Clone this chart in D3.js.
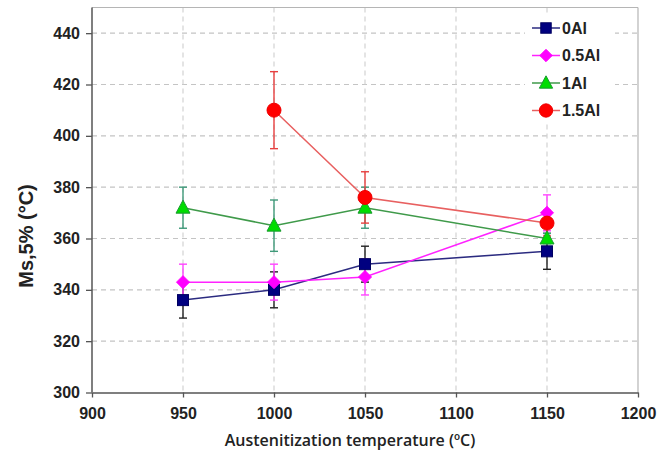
<!DOCTYPE html>
<html>
<head>
<meta charset="utf-8">
<script src="https://cdn.jsdelivr.net/npm/d3@7"></script>
<style>
  html, body { margin: 0; padding: 0; background: #fff; }
  svg { display: block; }
</style>
</head>
<body>
<svg id="chart" width="669" height="455"></svg>
<script>
// ---- data ----
const temps = [950, 1000, 1050, 1150];
const seriesNames = ["0Al", "0.5Al", "1Al", "1.5Al"];
const ms0Al   = [336, 340, 350, 355];
const err0Al  = [7, 7, 7, 7];
const ms05Al  = [343, 343, 345, 370];
const err05Al = [7, 7, 7, 7];
const ms1Al   = [372, 365, 372, 360];
const err1Al  = [8, 10, 8, 2];
const temps15 = [1000, 1050, 1150];
const ms15Al  = [410, 376, 366];
const err15Al = [15, 10, 5];
const xTicks = [900, 950, 1000, 1050, 1100, 1150, 1200];
const yTicks = [300, 320, 340, 360, 380, 400, 420, 440];

const series = [
  { name: seriesNames[0], x: temps,   y: ms0Al,  e: err0Al,  line: "#2b2b80", fill: "#000080", stroke: "#000060", err: "#222222", shape: "square" },
  { name: seriesNames[1], x: temps,   y: ms05Al, e: err05Al, line: "#ff22ff", fill: "#ff00ff", stroke: "#ff00ff", err: "#ff44ff", shape: "diamond" },
  { name: seriesNames[2], x: temps,   y: ms1Al,  e: err1Al,  line: "#3f9a4a", fill: "#00dd00", stroke: "#1a9a30", err: "#3f9a7a", shape: "triangle" },
  { name: seriesNames[3], x: temps15, y: ms15Al, e: err15Al, line: "#e86060", fill: "#ff0000", stroke: "#ee0000", err: "#e84040", shape: "circle" }
];

// ---- layout ----
const svg = d3.select("#chart");
const L = 92, R = 638, T = 7.5, B = 392.5;
const x = d3.scaleLinear().domain([900, 1200]).range([L, R]);
const y = d3.scaleLinear().domain([300, 450]).range([B, T]);

const FONT = "'Liberation Sans', Arial, sans-serif";

// grid
const grid = svg.append("g");
grid.selectAll(".hg").data(yTicks.filter(d => d > 300)).enter().append("line")
  .attr("x1", L).attr("x2", R).attr("y1", d => y(d)).attr("y2", d => y(d))
  .attr("stroke", "#c4c4c4").attr("stroke-width", 1.2).attr("stroke-dasharray", "5,4");
grid.selectAll(".vg").data(xTicks.filter(d => d > 900 && d < 1200)).enter().append("line")
  .attr("y1", T).attr("y2", B).attr("x1", d => x(d)).attr("x2", d => x(d))
  .attr("stroke", "#d2d2d2").attr("stroke-width", 1.2).attr("stroke-dasharray", "5,4");

// frame top/right
svg.append("line").attr("x1", L).attr("x2", R).attr("y1", T).attr("y2", T).attr("stroke", "#b5b5b5").attr("stroke-width", 1.2);
svg.append("line").attr("x1", R).attr("x2", R).attr("y1", T).attr("y2", B).attr("stroke", "#b5b5b5").attr("stroke-width", 1.2);

// axes
const xAxis = svg.append("g").attr("transform", `translate(0,${B})`)
  .call(d3.axisBottom(x).tickValues(xTicks).tickSize(5).tickSizeOuter(0).tickFormat(d3.format("d")));
const yAxis = svg.append("g").attr("transform", `translate(${L},0)`)
  .call(d3.axisLeft(y).tickValues(yTicks).tickSize(6).tickSizeOuter(0).tickFormat(d3.format("d")));
[xAxis, yAxis].forEach(a => {
  a.select(".domain").attr("stroke", "#555").attr("stroke-width", 1.5);
  a.selectAll(".tick line").attr("stroke", "#555").attr("stroke-width", 1.3);
  a.selectAll(".tick text").attr("fill", "#222").attr("font-family", FONT)
    .attr("font-weight", "bold").attr("font-size", "16px");
});
xAxis.selectAll(".tick text").attr("dy", "1.15em");
yAxis.selectAll(".tick text").attr("x", -12);
yAxis.select(".domain").attr("d", `M0,${B}V${T}`);

// axis titles
svg.append("text").attr("x", 350).attr("y", 446).attr("text-anchor", "middle")
  .attr("font-family", "'Open Sans', sans-serif").attr("font-weight", 600).attr("font-size", "16px")
  .attr("fill", "#222").text("Austenitization temperature (ºC)");
svg.append("text").attr("transform", "translate(33,236) rotate(-90)").attr("text-anchor", "middle")
  .attr("font-family", FONT).attr("font-weight", "bold").attr("font-size", "20px")
  .attr("fill", "#222").text("Ms,5% (°C)");

// markers
function drawMarker(g, s, cx, cy, scale) {
  const k = scale || 1;
  if (s.shape === "square") {
    g.append("rect").attr("x", cx - 5.5 * k).attr("y", cy - 5.5 * k).attr("width", 11 * k).attr("height", 11 * k)
      .attr("fill", s.fill).attr("stroke", s.stroke).attr("stroke-width", 1);
  } else if (s.shape === "diamond") {
    const r = 6.5 * k;
    g.append("path").attr("d", `M${cx},${cy - r}L${cx + r},${cy}L${cx},${cy + r}L${cx - r},${cy}Z`)
      .attr("fill", s.fill).attr("stroke", s.stroke).attr("stroke-width", 1);
  } else if (s.shape === "triangle") {
    const h = 13 * k, w = 14 * k;
    g.append("path").attr("d", `M${cx},${cy - h * 0.58}L${cx + w / 2},${cy + h * 0.42}L${cx - w / 2},${cy + h * 0.42}Z`)
      .attr("fill", s.fill).attr("stroke", s.stroke).attr("stroke-width", 1);
  } else {
    g.append("circle").attr("cx", cx).attr("cy", cy).attr("r", 7 * k)
      .attr("fill", s.fill).attr("stroke", s.stroke).attr("stroke-width", 1);
  }
}

const plot = svg.append("g");
series.forEach(s => {
  const pts = s.x.map((xv, i) => [x(xv), y(s.y[i])]);
  plot.append("path").attr("d", d3.line()(pts)).attr("fill", "none")
    .attr("stroke", s.line).attr("stroke-width", 1.5);
});
series.forEach(s => {
  s.x.forEach((xv, i) => {
    const cx = x(xv), y1 = y(s.y[i] + s.e[i]), y2 = y(s.y[i] - s.e[i]);
    const g = plot.append("g").attr("stroke", s.err).attr("stroke-width", 1.4);
    g.append("line").attr("x1", cx).attr("x2", cx).attr("y1", y1).attr("y2", y2);
    g.append("line").attr("x1", cx - 4).attr("x2", cx + 4).attr("y1", y1).attr("y2", y1);
    g.append("line").attr("x1", cx - 4).attr("x2", cx + 4).attr("y1", y2).attr("y2", y2);
  });
});
series.forEach(s => {
  s.x.forEach((xv, i) => drawMarker(plot, s, x(xv), y(s.y[i])));
});

// legend
const leg = svg.append("g");
leg.append("rect").attr("x", 525).attr("y", 13).attr("width", 90).attr("height", 110).attr("fill", "#fff");
const legY = [28, 55.5, 83, 110.5];
series.forEach((s, i) => {
  const g = leg.append("g");
  g.append("line").attr("x1", 532).attr("x2", 560).attr("y1", legY[i]).attr("y2", legY[i])
    .attr("stroke", s.line).attr("stroke-width", 1.5);
  drawMarker(g, s, 546, legY[i], 0.95);
  g.append("text").attr("x", 562).attr("y", legY[i]).attr("dy", "0.36em")
    .attr("font-family", FONT).attr("font-weight", "bold").attr("font-size", "16px")
    .attr("fill", "#222").text(s.name);
});
</script>
</body>
</html>
